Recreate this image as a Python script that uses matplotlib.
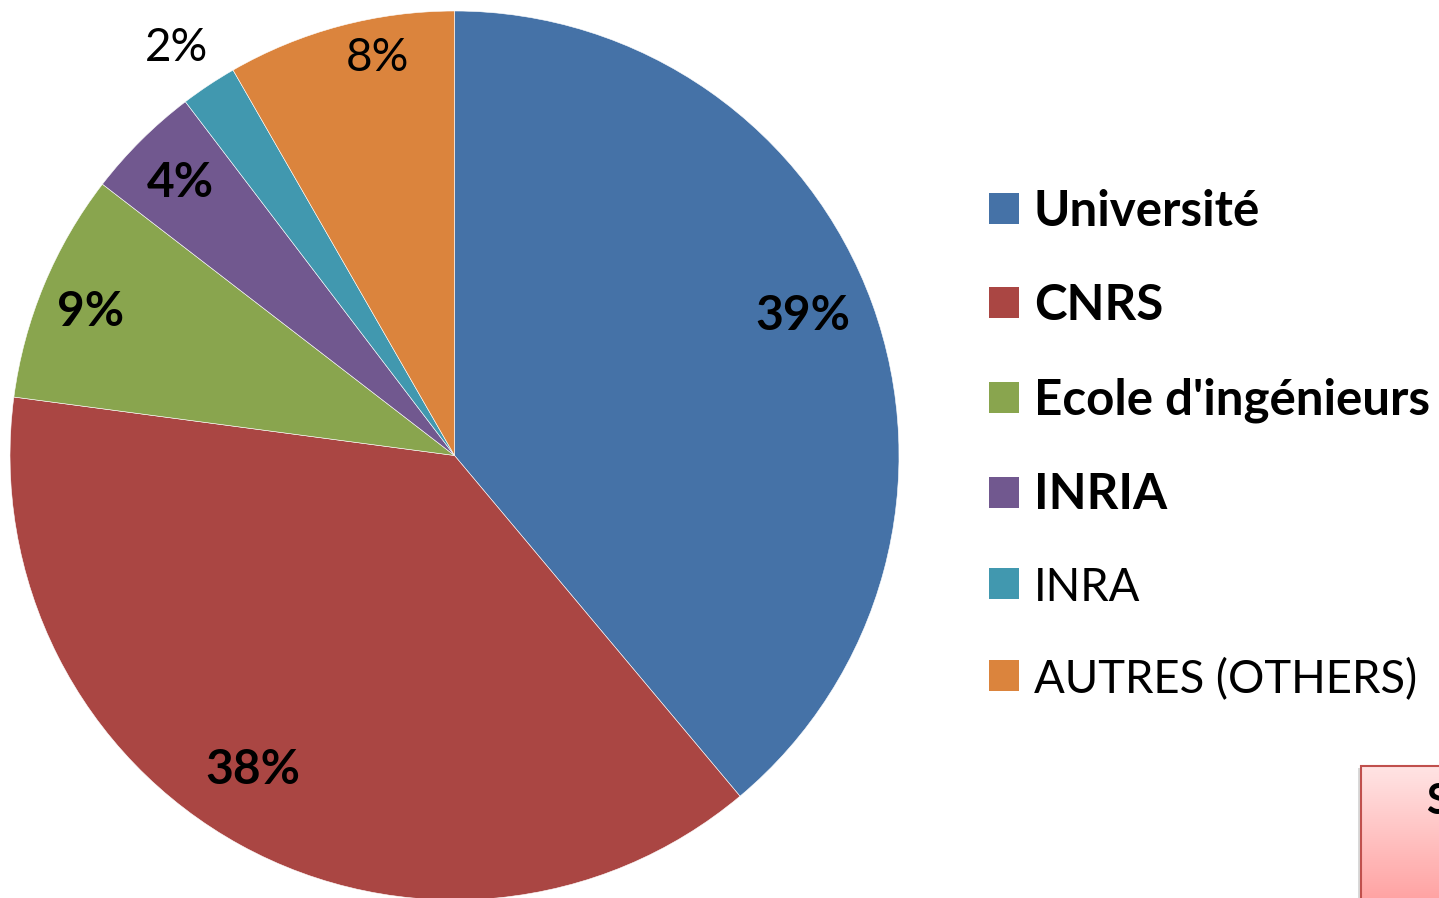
import numpy as np
import matplotlib.pyplot as plt
from matplotlib.patches import Rectangle, Patch

plt.rcParams["font.family"] = ["Lato", "DejaVu Sans"]

# slice data
categories = ["Université", "CNRS", "Ecole d'ingénieurs", "INRIA", "INRA", "AUTRES (OTHERS)"]
shares = [38.9, 38.2, 8.35, 4.2, 2.05, 8.3]
pct_labels = ["39%", "38%", "9%", "4%", "2%", "8%"]
bold_labels = [True, True, True, True, False, False]
bold_legend = [True, True, True, True, False, False]

colors = ["#4572A7", "#AA4643", "#89A54E", "#71588F", "#4198AF", "#DB843D"]

# label placement (fraction of radius, angular nudge in degrees)
label_r = [0.845, 0.84, 0.88, 0.87, 1.11, 0.91]
label_shift = [1.8, -3.9, 1.0, 0.3, 0.7, -4.0]

W, H = 1439, 898
fig = plt.figure(figsize=(W / 100, H / 100), dpi=100)
ax = fig.add_axes([0, 0, 1, 1])

cx, cy, R = 454.5, H - 455.5, 444.5
wedges, _ = ax.pie(
    shares,
    colors=colors,
    startangle=90,
    counterclock=False,
    center=(cx, cy),
    radius=R,
    wedgeprops=dict(edgecolor="white", linewidth=0.4),
)

for w, txt, bold, fr, sh in zip(wedges, pct_labels, bold_labels, label_r, label_shift):
    ang = np.deg2rad((w.theta1 + w.theta2) / 2 + sh)
    ax.text(
        cx + fr * R * np.cos(ang),
        cy + fr * R * np.sin(ang),
        txt,
        ha="center",
        va="center",
        fontsize=34.5 if bold else 33,
        fontweight="bold" if bold else "normal",
        color="black",
    )

ax.set_xlim(0, W)
ax.set_ylim(0, H)
ax.set_aspect("equal")
ax.axis("off")

handles = [Patch(facecolor=c, edgecolor="none") for c in colors]
leg = ax.legend(
    handles,
    categories,
    loc="upper left",
    bbox_to_anchor=(989 / W, 1 - 189 / H),
    frameon=False,
    fontsize=35.5,
    handlelength=0.61,
    handleheight=0.59,
    handletextpad=0.30,
    labelspacing=1.0,
    borderpad=0,
    borderaxespad=0,
)
for t, b in zip(leg.get_texts(), bold_legend):
    t.set_fontweight("bold" if b else "normal")
    if not b:
        t.set_fontsize(32.8)

# partially visible pink box at bottom right
bx, by_top = 1361, H - 766
ax.add_patch(Rectangle((bx - 3, -20), 140, by_top + 20 - 2, facecolor="#d9d9d9",
                       edgecolor="none", zorder=2))
box = Rectangle((bx, -20), 140, by_top + 20, facecolor="none",
                edgecolor="#C0504D", linewidth=1.5, zorder=4)
ax.add_patch(box)
grad = np.linspace(0, 1, 256).reshape(-1, 1)
img = ax.imshow(grad, cmap=plt.matplotlib.colors.LinearSegmentedColormap.from_list(
    "pink", ["#FF9A9A", "#FFE4E4"]), extent=(bx, bx + 140, -20, by_top),
    origin="lower", aspect="auto", zorder=3)
img.set_clip_path(box)
ax.text(1426, H - 802, "S", fontsize=30, fontweight="bold", ha="left", va="center", zorder=5)

ax.set_xlim(0, W)
ax.set_ylim(0, H)

fig.savefig("out.png", dpi=100)
